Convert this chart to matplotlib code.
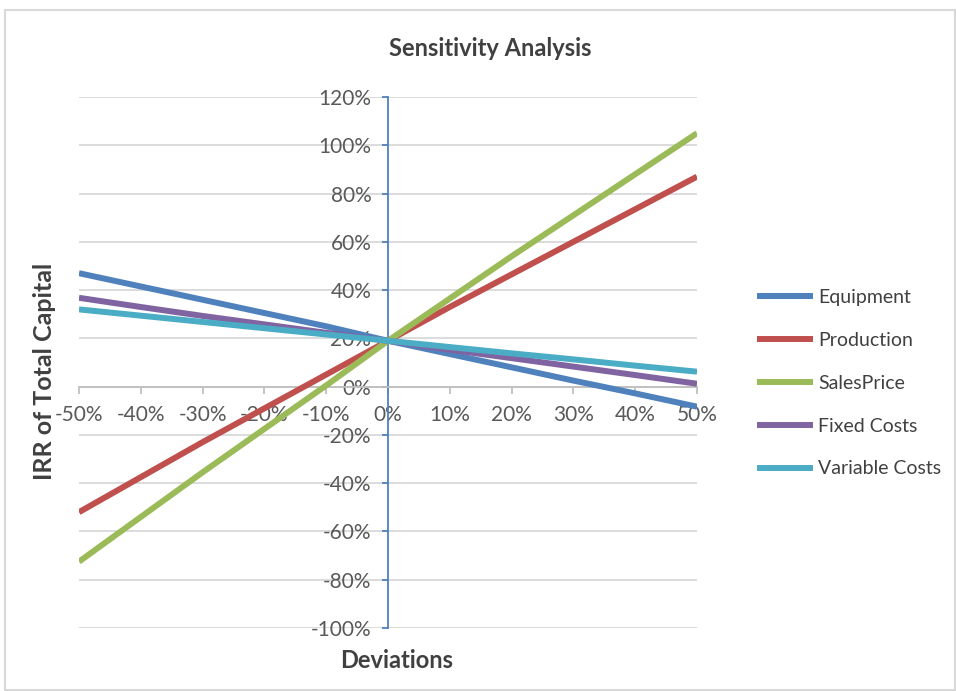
import matplotlib
matplotlib.use("Agg")
import matplotlib.pyplot as plt
from matplotlib.ticker import FuncFormatter, MultipleLocator
from matplotlib.patches import Rectangle

plt.rcParams['font.family'] = ['Lato', 'DejaVu Sans']
plt.rcParams['axes.unicode_minus'] = False

deviations = [-50, -40, -30, -20, -10, 0, 10, 20, 30, 40, 50]
equipment = [47, 41.5, 36, 30.5, 25, 19, 13.5, 8, 2.5, -2.8, -8.3]
production = [-52, -37.5, -23, -9, 5, 19, 33, 46.5, 60, 73.5, 87]
sales_price = [-72.5, -54, -35.5, -17.5, 0.5, 19, 36.5, 54, 71, 88, 105]
fixed_costs = [36.8, 33, 29.3, 25.8, 22.3, 19, 15.3, 11.8, 8.3, 4.8, 1.2]
variable_costs = [32, 29.4, 26.8, 24.2, 21.6, 19, 16.4, 13.8, 11.3, 8.7, 6.2]

series = [
    ("Equipment", equipment, "#4F81BD"),
    ("Production", production, "#C0504D"),
    ("SalesPrice", sales_price, "#9BBB59"),
    ("Fixed Costs", fixed_costs, "#8064A2"),
    ("Variable Costs", variable_costs, "#4BACC6"),
]

W, H = 956, 691
fig = plt.figure(figsize=(W / 100, H / 100), dpi=100)
ax = fig.add_axes([79 / W, 1 - 628 / H, (697 - 79) / W, (628 - 97) / H])

for name, vals, col in series:
    ax.plot(deviations, vals, color=col, lw=4.3, label=name, solid_capstyle='butt', zorder=3)

ax.set_xlim(-50, 50)
ax.set_ylim(-100, 120)
ax.yaxis.set_major_locator(MultipleLocator(20))
ax.xaxis.set_major_locator(MultipleLocator(10))
fmt = FuncFormatter(lambda v, p: f"{int(round(v))}%")
ax.xaxis.set_major_formatter(fmt)
ax.yaxis.set_major_formatter(fmt)

ax.grid(axis='y', color='#D9D9D9', lw=1.3, zorder=0)
ax.set_axisbelow(True)
for s in ['top', 'right']:
    ax.spines[s].set_visible(False)
ax.spines['left'].set_position(('data', 0))
ax.spines['bottom'].set_position(('data', 0))
ax.spines['left'].set_color('#4F81BD')
ax.spines['left'].set_linewidth(1.3)
ax.spines['bottom'].set_color('#BFBFBF')
ax.spines['bottom'].set_linewidth(1.3)

ax.tick_params(axis='y', direction='out', length=4, width=1.3, color='#4F81BD',
               labelsize=15, labelcolor='#595959', pad=8)
ax.tick_params(axis='x', direction='out', length=5, width=1.3, color='#BFBFBF',
               labelsize=15, labelcolor='#595959', pad=8)

fig.text(490 / W, 1 - 48 / H, "Sensitivity Analysis", ha='center', va='center',
         fontsize=17, fontweight='bold', color='#404040')
fig.text(45 / W, 1 - 371 / H, "IRR of Total Capital", ha='center', va='center',
         rotation=90, fontsize=18, fontweight='bold', color='#404040')
fig.text(397 / W, 1 - 660 / H, "Deviations", ha='center', va='center',
         fontsize=17, fontweight='bold', color='#404040')

leg = ax.legend(loc='upper left', bbox_to_anchor=(757 / W, 1 - 289 / H),
                bbox_transform=fig.transFigure, frameon=False, fontsize=14,
                handlelength=2.9, handletextpad=0.25, labelspacing=1.33,
                borderaxespad=0, borderpad=0)
for t in leg.get_texts():
    t.set_color('#404040')

fig.patches.append(Rectangle((5 / W, 1 / H), (W - 6) / W, (H - 11) / H,
                             transform=fig.transFigure, fill=False,
                             edgecolor='#D9D9D9', lw=1.5))

fig.savefig("out.png", dpi=100)
